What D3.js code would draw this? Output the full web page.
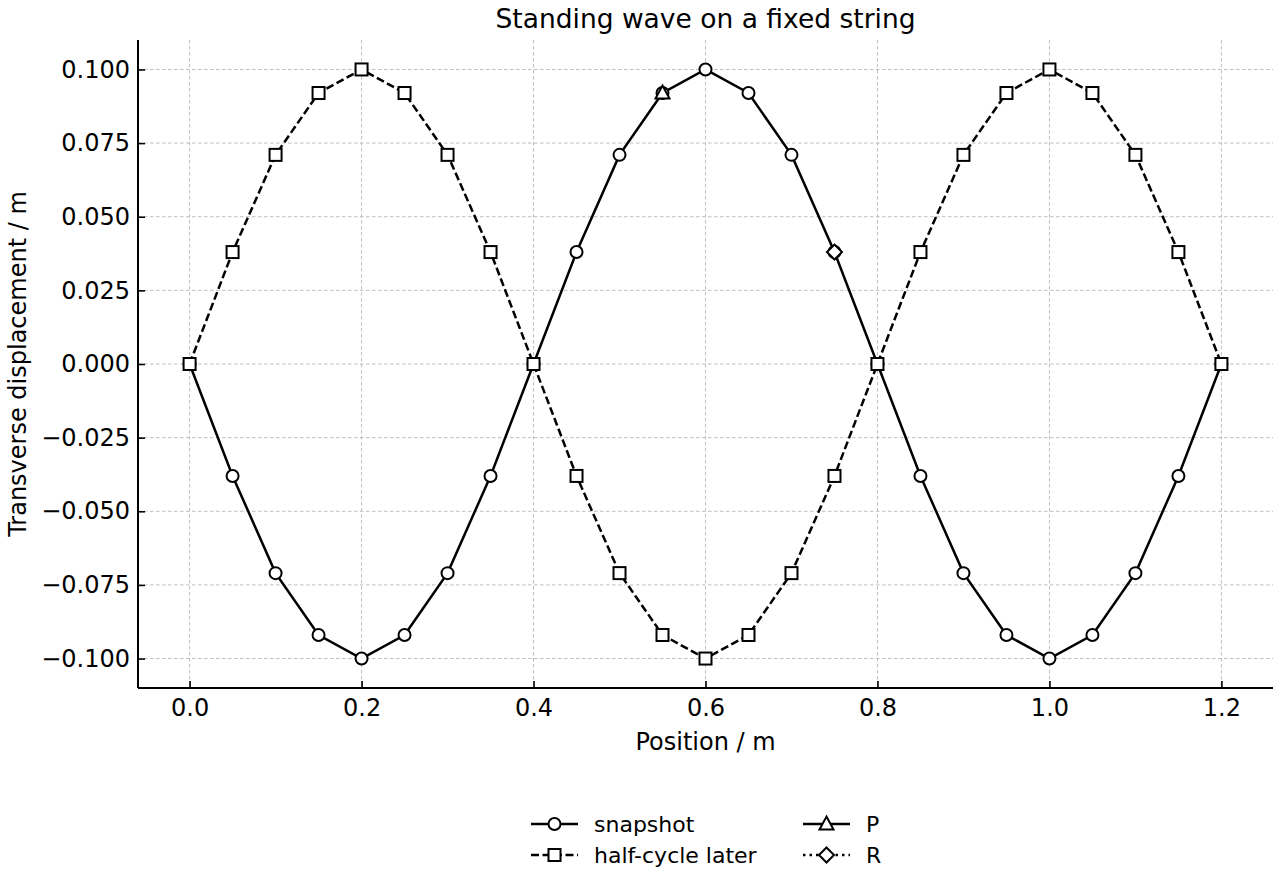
<!DOCTYPE html>
<html>
<head>
<meta charset="utf-8">
<script src="https://cdn.jsdelivr.net/npm/d3@7"></script>
<style>
  body { margin: 0; background: #fff; }
  svg text { font-family: "DejaVu Sans", sans-serif; fill: #000; }
</style>
</head>
<body>
<svg id="chart" width="1280" height="880"></svg>
<script>
// data
let positions = [0.0, 0.05, 0.1, 0.15, 0.2, 0.25, 0.3, 0.35, 0.4, 0.45, 0.5, 0.55, 0.6,
                 0.65, 0.7, 0.75, 0.8, 0.85, 0.9, 0.95, 1.0, 1.05, 1.1, 1.15, 1.2];
let snapshot = [0.0, -0.038, -0.071, -0.092, -0.100, -0.092, -0.071, -0.038, 0.0,
                0.038, 0.071, 0.092, 0.100, 0.092, 0.071, 0.038, 0.0,
                -0.038, -0.071, -0.092, -0.100, -0.092, -0.071, -0.038, 0.0];
let halfCycle = [0.0, 0.038, 0.071, 0.092, 0.100, 0.092, 0.071, 0.038, 0.0,
                 -0.038, -0.071, -0.092, -0.100, -0.092, -0.071, -0.038, 0.0,
                 0.038, 0.071, 0.092, 0.100, 0.092, 0.071, 0.038, 0.0];
let pointP = [[0.55, 0.092]];
let pointR = [[0.75, 0.038]];
let xTicks = [0.0, 0.2, 0.4, 0.6, 0.8, 1.0, 1.2];
let yTicks = [-0.100, -0.075, -0.050, -0.025, 0.0, 0.025, 0.050, 0.075, 0.100];

let svg = d3.select("#chart");
let plotLeft = 138, plotRight = 1273, plotTop = 40, plotBottom = 688;

let x = d3.scaleLinear().domain([-0.06, 1.26]).range([plotLeft, plotRight]);
let y = d3.scaleLinear().domain([-0.11, 0.11]).range([plotBottom, plotTop]);

// grid
let grid = svg.append("g")
    .attr("stroke", "#b8b8b8")
    .attr("stroke-width", 0.9)
    .attr("stroke-dasharray", "3.5,2.5");
grid.selectAll("line.vx")
    .data(xTicks)
    .join("line")
    .attr("class", "vx")
    .attr("x1", d => x(d)).attr("x2", d => x(d))
    .attr("y1", plotTop).attr("y2", plotBottom);
grid.selectAll("line.hy")
    .data(yTicks)
    .join("line")
    .attr("class", "hy")
    .attr("x1", plotLeft).attr("x2", plotRight)
    .attr("y1", d => y(d)).attr("y2", d => y(d));

// axes
let fmtY = d => (d < 0 ? "\u2212" : "") + Math.abs(d).toFixed(3);
let xAxis = svg.append("g")
    .attr("transform", `translate(0,${plotBottom})`)
    .call(d3.axisBottom(x).tickValues(xTicks).tickFormat(d3.format(".1f"))
        .tickSizeInner(-7).tickSizeOuter(0).tickPadding(11));
let yAxis = svg.append("g")
    .attr("transform", `translate(${plotLeft},0)`)
    .call(d3.axisLeft(y).tickValues(yTicks).tickFormat(fmtY)
        .tickSizeInner(-7).tickSizeOuter(0).tickPadding(8));
[xAxis, yAxis].forEach(g => {
    g.select(".domain").attr("stroke", "#000").attr("stroke-width", 2);
    g.selectAll(".tick line").attr("stroke", "#000").attr("stroke-width", 1.6);
    g.selectAll(".tick text").attr("font-size", 24).attr("font-family", "DejaVu Sans");
});
xAxis.select(".domain").attr("d", `M${plotLeft},0H${plotRight}`);
yAxis.select(".domain").attr("d", `M0,${plotTop}V${plotBottom}`);

// labels
svg.append("text").attr("x", (plotLeft + plotRight) / 2).attr("y", 28)
    .attr("text-anchor", "middle").attr("font-size", 26.5)
    .text("Standing wave on a fixed string");
svg.append("text").attr("x", (plotLeft + plotRight) / 2).attr("y", 750)
    .attr("text-anchor", "middle").attr("font-size", 24)
    .text("Position / m");
svg.append("text")
    .attr("transform", `translate(26,${(plotTop + plotBottom) / 2}) rotate(-90)`)
    .attr("text-anchor", "middle").attr("font-size", 24)
    .text("Transverse displacement / m");

// marker helpers
function marker(g, shape, cx, cy) {
    let common = s => s.attr("fill", "#fff").attr("stroke", "#000").attr("stroke-width", 2);
    if (shape === "circle") {
        common(g.append("circle").attr("cx", cx).attr("cy", cy).attr("r", 6));
    } else if (shape === "square") {
        common(g.append("rect").attr("x", cx - 6).attr("y", cy - 6).attr("width", 12).attr("height", 12));
    } else if (shape === "triangle") {
        common(g.append("path").attr("d", `M${cx},${cy - 7.5}L${cx + 7},${cy + 5.5}L${cx - 7},${cy + 5.5}Z`));
    } else if (shape === "diamond") {
        common(g.append("path").attr("d", `M${cx},${cy - 7.5}L${cx + 7.5},${cy}L${cx},${cy + 7.5}L${cx - 7.5},${cy}Z`));
    }
}

let line = d3.line().x(d => x(d[0])).y(d => y(d[1]));
let series = [
    { name: "snapshot", data: positions.map((p, i) => [p, snapshot[i]]), shape: "circle", dash: null },
    { name: "half-cycle later", data: positions.map((p, i) => [p, halfCycle[i]]), shape: "square", dash: "8,3.5" },
    { name: "P", data: pointP, shape: "triangle", dash: null },
    { name: "R", data: pointR, shape: "diamond", dash: "2.5,4" }
];

let plot = svg.append("g");
series.forEach(s => {
    let g = plot.append("g");
    g.append("path").datum(s.data)
        .attr("d", line)
        .attr("fill", "none")
        .attr("stroke", "#000")
        .attr("stroke-width", 2.5)
        .attr("stroke-dasharray", s.dash);
    s.data.forEach(d => marker(g, s.shape, x(d[0]), y(d[1])));
});

// legend
let legend = svg.append("g");
let cols = [531, 803], rows = [824, 855];
series.forEach((s, i) => {
    let lx = cols[Math.floor(i / 2)], ly = rows[i % 2];
    let g = legend.append("g");
    g.append("line")
        .attr("x1", lx).attr("x2", lx + 47)
        .attr("y1", ly).attr("y2", ly)
        .attr("stroke", "#000").attr("stroke-width", 2.5)
        .attr("stroke-dasharray", s.dash);
    marker(g, s.shape, lx + 23.5, ly);
    g.append("text").attr("x", lx + 63).attr("y", ly + 8)
        .attr("font-size", 22).text(s.name);
});
</script>
</body>
</html>
